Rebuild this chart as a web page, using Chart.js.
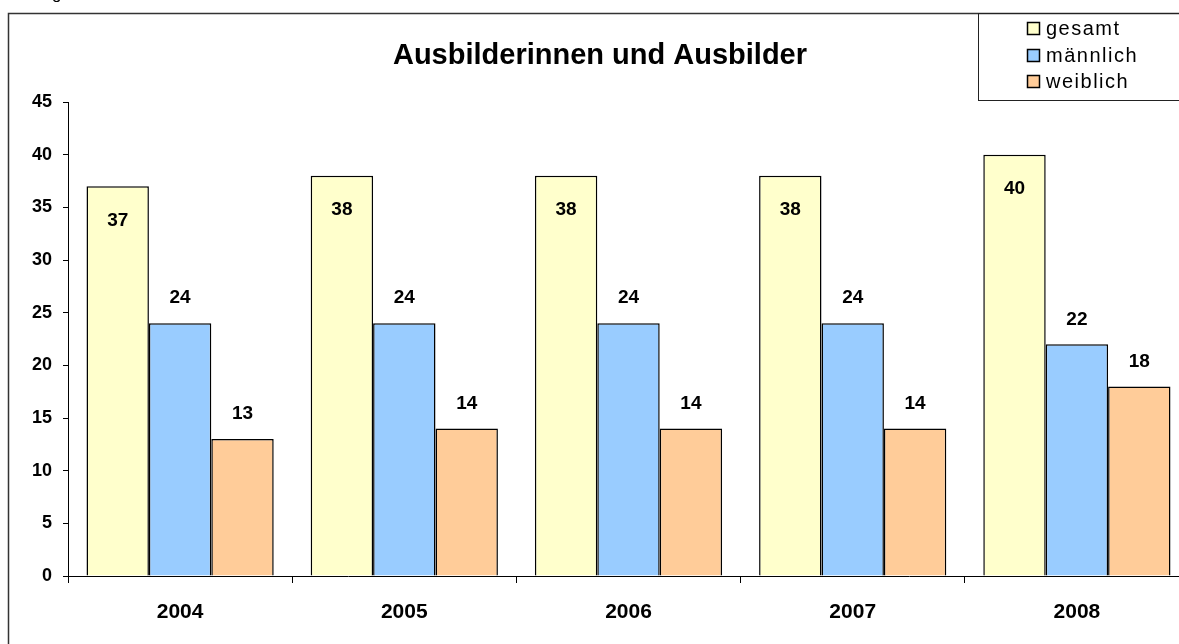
<!DOCTYPE html>
<html lang="de">
<head>
<meta charset="utf-8">
<title>Ausbilderinnen und Ausbilder</title>
<script src="https://cdn.jsdelivr.net/npm/chart.js@4.4.1/dist/chart.umd.min.js"></script>
<style>
    html, body { margin: 0; padding: 0; background: #fff; overflow: hidden; }
    #wrap { width: 1179px; height: 644px; overflow: hidden; position: relative; }
    #chartAusbilder { position: absolute; left: 0; top: 0; }
</style>
</head>
<body>
<div id="wrap">
    <canvas id="chartAusbilder" width="1240" height="660"></canvas>
</div>
<script>
// ===== Daten =====
const jahre = ['2004', '2005', '2006', '2007', '2008'];
const gesamt = [37, 38, 38, 38, 40];
const maennlich = [24, 24, 24, 24, 22];
const weiblich = [13, 14, 14, 14, 18];
const serienNamen = ['gesamt', 'männlich', 'weiblich'];
const titel = 'Ausbilderinnen und Ausbilder';

const farben = ['#FFFFCC', '#99CCFF', '#FFCC99'];
const schrift = '"Liberation Sans", Arial, sans-serif';

// Rahmen, Titel und Legende zeichnen
const rahmenPlugin = {
    id: 'rahmen',
    afterDraw(chart) {
        const ctx = chart.ctx;
        ctx.save();

        // abgeschnittener Text oben
        ctx.fillStyle = '#000';
        ctx.font = '17px ' + schrift;
        ctx.textBaseline = 'alphabetic';
        ctx.fillText('g', 52, -1);

        // Rahmen
        ctx.strokeStyle = '#333';
        ctx.lineWidth = 1.5;
        ctx.strokeRect(8.5, 13.5, 1300, 800);

        // Titel
        ctx.fillStyle = '#000';
        ctx.font = 'bold 29px ' + schrift;
        ctx.textAlign = 'center';
        ctx.textBaseline = 'alphabetic';
        ctx.fillText(titel, 600, 64);

        // Legende
        ctx.strokeStyle = '#222';
        ctx.lineWidth = 1;
        ctx.strokeRect(978.5, 13.5, 400, 87);
        const basis = [35, 62, 88];
        ctx.textAlign = 'left';
        ctx.font = '20px ' + schrift;
        if ('letterSpacing' in ctx) ctx.letterSpacing = '1.5px';
        serienNamen.forEach((name, i) => {
            ctx.fillStyle = farben[i];
            ctx.fillRect(1027.5, basis[i] - 12.5, 12, 12);
            ctx.strokeStyle = '#000';
            ctx.lineWidth = 1.5;
            ctx.strokeRect(1027.5, basis[i] - 12.5, 12, 12);
            ctx.fillStyle = '#000';
            ctx.fillText(name, 1046, basis[i]);
        });
        ctx.restore();
    }
};

// Datenbeschriftungen
const beschriftungPlugin = {
    id: 'beschriftung',
    afterDatasetsDraw(chart) {
        const ctx = chart.ctx;
        ctx.save();
        ctx.fillStyle = '#000';
        ctx.font = 'bold 19px ' + schrift;
        ctx.textAlign = 'center';
        ctx.textBaseline = 'middle';
        chart.data.datasets.forEach((ds, i) => {
            const meta = chart.getDatasetMeta(i);
            meta.data.forEach((bar, j) => {
                const y = i === 0 ? bar.y + 34 : bar.y - 25;
                ctx.fillText(String(ds.data[j]), bar.x, y);
            });
        });
        ctx.restore();
    }
};

document.addEventListener('DOMContentLoaded', function() {
    const ctx = document.getElementById('chartAusbilder');
    new Chart(ctx, {
        type: 'bar',
        data: {
            labels: jahre,
            datasets: [
                { label: serienNamen[0], data: gesamt, backgroundColor: farben[0] },
                { label: serienNamen[1], data: maennlich, backgroundColor: farben[1] },
                { label: serienNamen[2], data: weiblich, backgroundColor: farben[2] }
            ].map(ds => Object.assign(ds, {
                borderColor: '#000',
                borderWidth: 1.5,
                categoryPercentage: 0.835,
                barPercentage: 1.0
            }))
        },
        options: {
            responsive: false,
            animation: false,
            layout: {
                padding: { left: 8, top: 102, right: 51, bottom: 0 }
            },
            plugins: {
                legend: { display: false },
                title: { display: false },
                tooltip: { enabled: false }
            },
            scales: {
                x: {
                    grid: {
                        display: true,
                        offset: true,
                        drawOnChartArea: false,
                        drawTicks: true,
                        tickLength: 7,
                        color: '#000'
                    },
                    border: { display: true, color: '#000', width: 1 },
                    ticks: {
                        color: '#000',
                        padding: 17,
                        font: { family: schrift, size: 21, weight: 'bold' }
                    },
                    afterFit(scale) { scale.height = 84; }
                },
                y: {
                    min: 0,
                    max: 45,
                    ticks: {
                        stepSize: 5,
                        color: '#000',
                        padding: 11,
                        font: { family: schrift, size: 18, weight: 'bold' }
                    },
                    grid: {
                        display: true,
                        drawOnChartArea: false,
                        drawTicks: true,
                        tickLength: 5,
                        color: '#000'
                    },
                    border: { display: true, color: '#000', width: 1 },
                    afterFit(scale) { scale.width = 60; }
                }
            }
        },
        plugins: [rahmenPlugin, beschriftungPlugin]
    });
});
</script>
</body>
</html>
